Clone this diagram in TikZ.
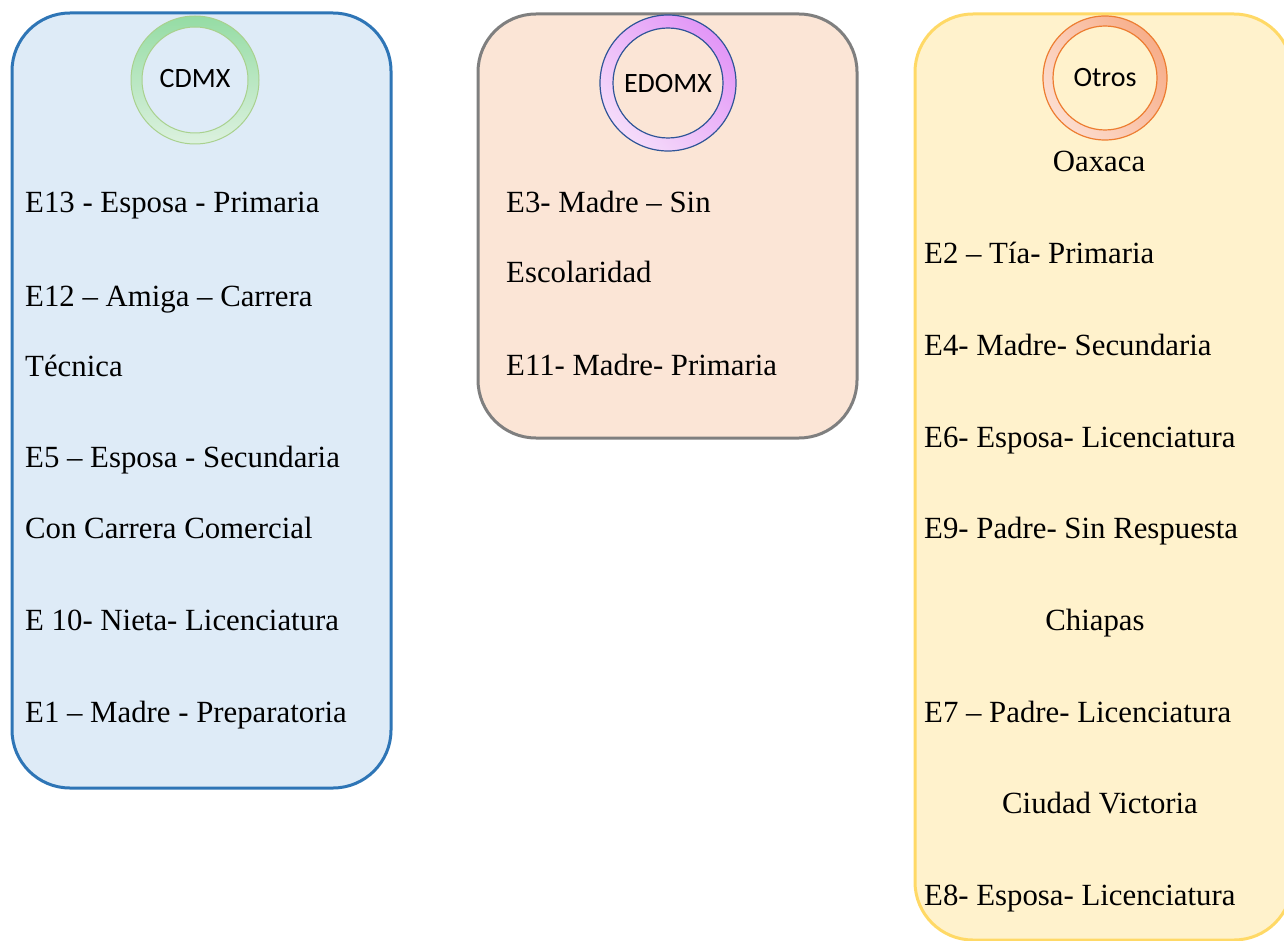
\documentclass[tikz,border=0pt]{standalone}
\usepackage{fontspec}
\setmainfont{Liberation Serif}
\newfontfamily\calfont{Carlito}
\definecolor{cdmxfill}{HTML}{DEEBF7}
\definecolor{cdmxline}{HTML}{2E75B6}
\definecolor{edofill}{HTML}{FBE5D6}
\definecolor{edoline}{HTML}{7F7F7F}
\definecolor{otrfill}{HTML}{FFF2CC}
\definecolor{otrline}{HTML}{FFD966}
\definecolor{cdmxtop}{HTML}{95DCA4}
\definecolor{cdmxbot}{HTML}{DCF1DF}
\definecolor{cdmxrim}{HTML}{A9D18E}
\definecolor{edotop}{HTML}{E296F7}
\definecolor{edobot}{HTML}{F5DCFA}
\definecolor{edorim}{HTML}{2F5597}
\definecolor{otrtop}{HTML}{F7AE8A}
\definecolor{otrbot}{HTML}{FCDDD0}
\definecolor{otrrim}{HTML}{ED7D31}
\def\ringmark[#1][#2][#3](#4)(#5:#6){\shade[even odd rule,top color=#1,bottom color=#2,shading angle=#3] (#4) circle (#5) (#4) circle (#6);}
\tikzset{
  entry/.style={anchor=base west,font=\fontsize{30.8}{36}\selectfont,inner sep=0pt},
  place/.style={anchor=base,font=\fontsize{30.8}{36}\selectfont,inner sep=0pt},
  tag/.style={font=\calfont\fontsize{28}{32}\selectfont,inner sep=0pt}
}

\begin{document}
\begin{tikzpicture}[x=1pt,y=-1pt]
		%%%%% START %%%%%
		\useasboundingbox (0, 0) rectangle (1284, 941);
		
		\draw[fill=cdmxfill, draw=cdmxline, line width=3pt, rounded corners=58pt] (12, 13) rectangle (391, 788);
		\draw[fill=edofill, draw=edoline, line width=3pt, rounded corners=58pt] (478, 14) rectangle (857, 438);
		\draw[fill=otrfill, draw=otrline, line width=3pt, rounded corners=58pt] (915, 14) rectangle (1292, 940);
		
		\ringmark[cdmxtop][cdmxbot][0](195, 80)(64:53)
		\draw[cdmxrim, line width=1pt] (195, 80) circle (64) (195, 80) circle (53);
		\node[tag] (cdmx) at (195, 79) {CDMX};
		
		\ringmark[edotop][edobot][-45](668, 83)(68:55)
		\draw[edorim, line width=1.2pt] (668, 83) circle (68) (668, 83) circle (55);
		\node[tag] (edomx) at (668, 84) {EDOMX};
		
		\ringmark[otrtop][otrbot][-55](1105, 78)(62:52)
		\draw[otrrim, line width=1.2pt] (1105, 78) circle (62) (1105, 78) circle (52);
		\node[tag] (otros) at (1105, 78) {Otros};
		
		\node[entry] (e13) at (25, 213) {E13 - Esposa - Primaria};
		\node[entry] (e12) at (25, 306) {E12 – Amiga – Carrera};
		\node[entry] (e12b) at (25, 376) {Técnica};
		\node[entry] (e5) at (25, 467) {E5 – Esposa - Secundaria};
		\node[entry] (e5b) at (25, 538) {Con Carrera Comercial};
		\node[entry] (e10) at (25, 630) {E 10- Nieta- Licenciatura};
		\node[entry] (e1) at (25, 722) {E1 – Madre - Preparatoria};
		
		\node[entry] (e3) at (506, 213) {E3- Madre – Sin};
		\node[entry] (e3b) at (506, 282) {Escolaridad};
		\node[entry] (e11) at (506, 375) {E11- Madre- Primaria};
		
		\node[place] (oax) at (1099, 172) {Oaxaca};
		\node[entry] (e2) at (924, 264) {E2 – Tía- Primaria};
		\node[entry] (e4) at (924, 355) {E4- Madre- Secundaria};
		\node[entry] (e6) at (924, 447) {E6- Esposa- Licenciatura};
		\node[entry] (e9) at (924, 538) {E9- Padre- Sin Respuesta};
		\node[place] (chis) at (1095, 630) {Chiapas};
		\node[entry] (e7) at (924, 722) {E7 – Padre- Licenciatura};
		\node[place] (cdvic) at (1100, 813) {Ciudad Victoria};
		\node[entry] (e8) at (924, 905) {E8- Esposa- Licenciatura};
		%%%%% END %%%%%
\end{tikzpicture}
\end{document}
